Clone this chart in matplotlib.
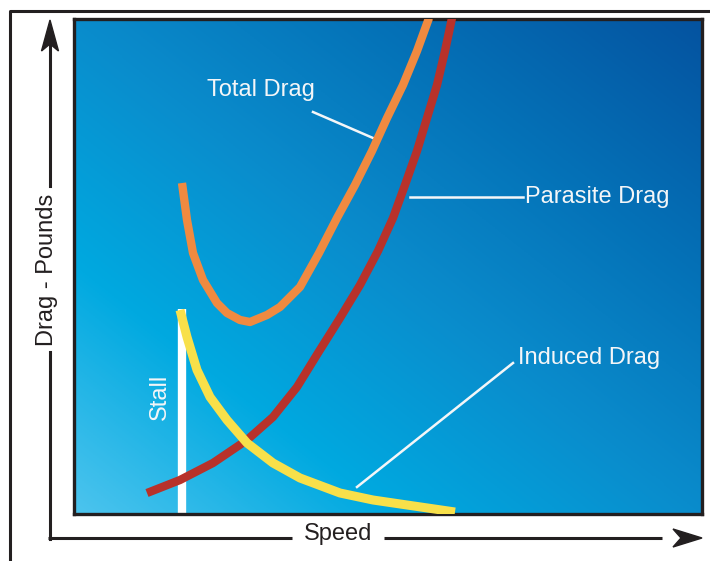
import matplotlib
matplotlib.use("Agg")
import matplotlib.pyplot as plt
from matplotlib.colors import LinearSegmentedColormap
from matplotlib.patches import Polygon
import numpy as np

plt.rcParams['font.family'] = ['Liberation Sans', 'DejaVu Sans']

# curve values (speed, drag), arbitrary units
parasite_speed = [73, 106, 139, 173, 199, 223, 244, 266, 286, 304, 319, 331, 343, 353, 363, 371, 378]
parasite_drag = [21, 34, 51, 74, 97, 127, 161, 196, 229, 263, 296, 329, 363, 396, 429, 463, 496]

total_speed = [108, 113, 119, 129, 143, 153, 166, 176, 193, 206, 226, 245, 263, 281, 298, 313, 329, 343, 355]
total_drag = [331, 294, 261, 234, 211, 201, 194, 192, 199, 207, 227, 261, 296, 329, 363, 396, 429, 463, 496]

induced_speed = [106, 113, 123, 136, 153, 173, 199, 226, 266, 299, 333, 381]
induced_drag = [204, 177, 144, 117, 94, 71, 51, 36, 21, 14, 9, 2]

stall_speed = 108
stall_top = 205

W, H = 710, 561
fig = plt.figure(figsize=(W / 100, H / 100), dpi=100)

# whole-figure layer in pixel units for the outer frame and the arrows
frame = fig.add_axes([0, 0, 1, 1])
frame.set_xlim(0, W)
frame.set_ylim(H, 0)
frame.axis('off')
dark = '#231f20'
frame.plot([10, 10, W], [H, 11, 11], color=dark, lw=2.2, solid_capstyle='butt')
# y arrow
frame.plot([50, 50], [46, 186], color=dark, lw=2.2)
frame.plot([50, 50], [352, 539], color=dark, lw=2.2)
frame.add_patch(Polygon([[50, 20], [58.5, 51], [50, 44], [41.5, 51]], closed=True, color=dark))
# x arrow
frame.plot([48, 292], [538, 538], color=dark, lw=2.2, solid_capstyle='butt')
frame.plot([384, 662], [538, 538], color=dark, lw=2.2, solid_capstyle='butt')
frame.add_patch(Polygon([[702, 538], [673, 529], [681, 538], [673, 547]], closed=True, color=dark))
frame.text(47, 270, 'Drag - Pounds', rotation=90, ha='center', va='center', fontsize=17, color=dark)
frame.text(338, 534, 'Speed', ha='center', va='center', fontsize=17, color=dark)

ax = fig.add_axes([74 / W, (H - 514) / H, (702 - 74) / W, (514 - 19) / H])
xmax, ymax = 628, 495
ax.set_xlim(0, xmax)
ax.set_ylim(0, ymax)

# diagonal blue gradient, light bottom-left to dark top-right
cmap = LinearSegmentedColormap.from_list('sky', ['#4cc4ee', '#00a9e0', '#0a8ccc', '#0470b6', '#0553a0'])
gx, gy = np.meshgrid(np.linspace(0, 1, 300), np.linspace(0, 1, 300))
ax.imshow((gx + gy) / 2, cmap=cmap, origin='lower', extent=[0, xmax, 0, ymax], aspect='auto', zorder=0)

ax.plot([stall_speed, stall_speed], [0, stall_top], color='white', lw=6, solid_capstyle='butt', zorder=2)
ax.plot(parasite_speed, parasite_drag, color='#b8322a', lw=6, solid_capstyle='butt', solid_joinstyle='round', zorder=3)
ax.plot(induced_speed, induced_drag, color='#f8e04a', lw=6.5, solid_capstyle='butt', solid_joinstyle='round', zorder=3)
ax.plot(total_speed, total_drag, color='#f08a40', lw=6, solid_capstyle='butt', solid_joinstyle='round', zorder=4)

lbl = '#f4f6f8'
ax.text(86, 117, 'Stall', rotation=90, ha='center', va='center', fontsize=17, color=lbl)
ax.text(187, 424, 'Total Drag', ha='center', va='center', fontsize=17, color=lbl)
ax.plot([239, 299], [402, 376], color=lbl, lw=1.8)
ax.text(451, 317, 'Parasite Drag', ha='left', va='center', fontsize=17, color=lbl)
ax.plot([336, 449], [317, 317], color=lbl, lw=1.8)
ax.text(444, 156, 'Induced Drag', ha='left', va='center', fontsize=17, color=lbl)
ax.plot([283, 439], [27, 151], color=lbl, lw=1.8)

ax.set_xticks([])
ax.set_yticks([])
for s in ax.spines.values():
    s.set_color(dark)
    s.set_linewidth(2.4)

fig.savefig('out.png', dpi=100)
